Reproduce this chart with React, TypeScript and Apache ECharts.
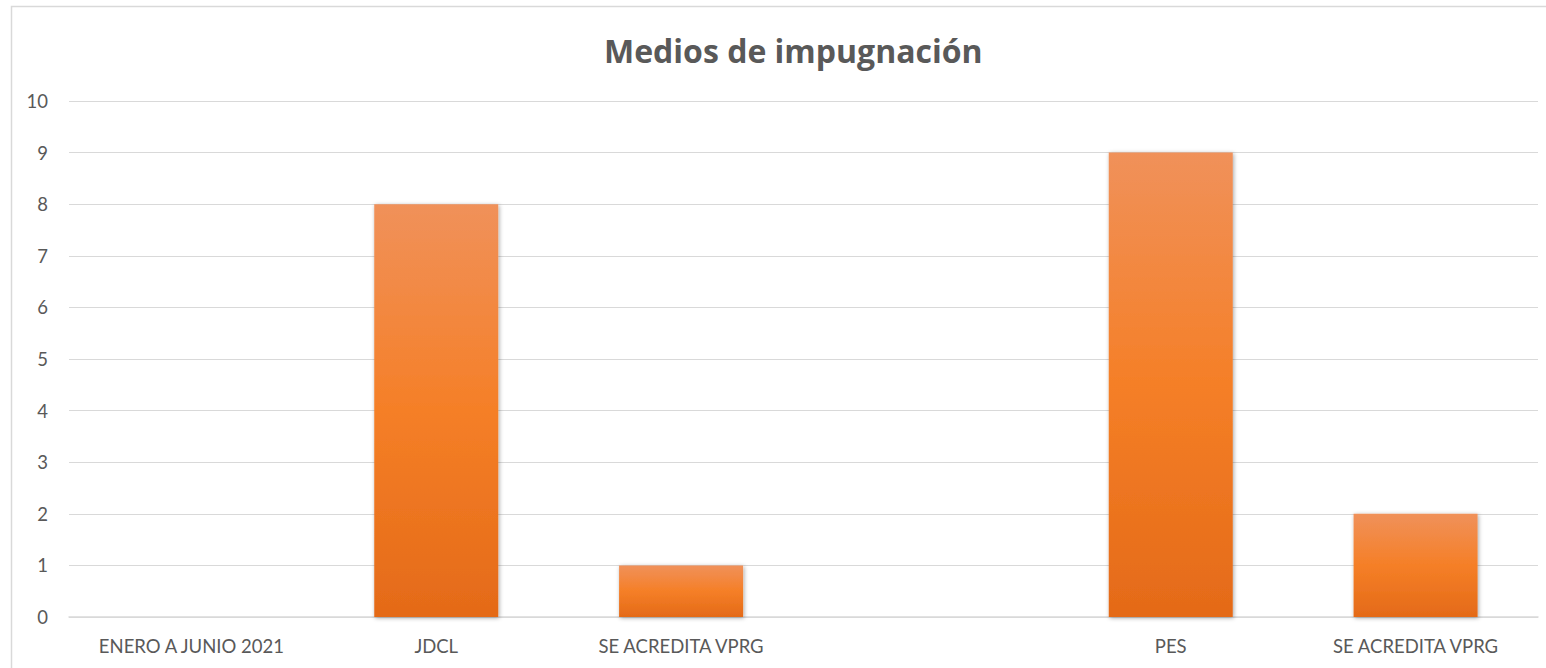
import React, { useEffect, useRef } from "react";
import * as echarts from "echarts";

const categories = ["ENERO A JUNIO 2021", "JDCL", "SE ACREDITA VPRG", "", "PES", "SE ACREDITA VPRG"];
const values: (number | null)[] = [null, 8, 1, null, 9, 2];
const titleText = "Medios de impugnación";

export default function App() {
  const ref = useRef<HTMLDivElement>(null);
  useEffect(() => {
    if (!ref.current) return;
    const chart = echarts.init(ref.current, undefined, { renderer: "svg" });
    chart.setOption({
      animation: false,
      backgroundColor: "#ffffff",
      textStyle: { fontFamily: "Lato" },
      title: {
        text: titleText,
        left: 599,
        top: 29,
        textStyle: { fontFamily: "Open Sans", fontSize: 32, fontWeight: "bold", color: "#595959" },
      },
      graphic: [
        {
          type: "rect",
          shape: { x: 11.5, y: 6.5, width: 1560, height: 700 },
          style: { fill: "none", stroke: "#d9d9d9", lineWidth: 1.5 },
          silent: true,
        },
      ],
      grid: { left: 69, right: 8, top: 101, bottom: 51, containLabel: false },
      xAxis: {
        type: "category",
        data: categories,
        axisLine: { show: true, lineStyle: { color: "#d9d9d9", width: 1.5 } },
        axisTick: { show: false },
        axisLabel: { color: "#595959", fontSize: 18.5, margin: 19, interval: 0, fontFamily: "Lato" },
      },
      yAxis: {
        type: "value",
        min: 0,
        max: 10,
        interval: 1,
        axisLine: { show: false },
        axisTick: { show: false },
        splitLine: { lineStyle: { color: "#d9d9d9", width: 1.2 } },
        axisLabel: { color: "#595959", fontSize: 18.5, margin: 21, fontFamily: "Lato" },
      },
      series: [
        {
          type: "bar",
          data: values,
          barWidth: 124,
          itemStyle: {
            color: new echarts.graphic.LinearGradient(0, 0, 0, 1, [
              { offset: 0, color: "#f0915a" },
              { offset: 0.5, color: "#f57f27" },
              { offset: 1, color: "#e46a18" },
            ]),
            shadowBlur: 4,
            shadowColor: "rgba(0,0,0,0.35)",
            shadowOffsetX: 1,
            shadowOffsetY: 1,
          },
        },
      ],
    });
    return () => chart.dispose();
  }, []);
  return (
    <div
      ref={ref}
      style={{ position: "fixed", left: 0, top: 0, width: 1546, height: 668 }}
    />
  );
}
